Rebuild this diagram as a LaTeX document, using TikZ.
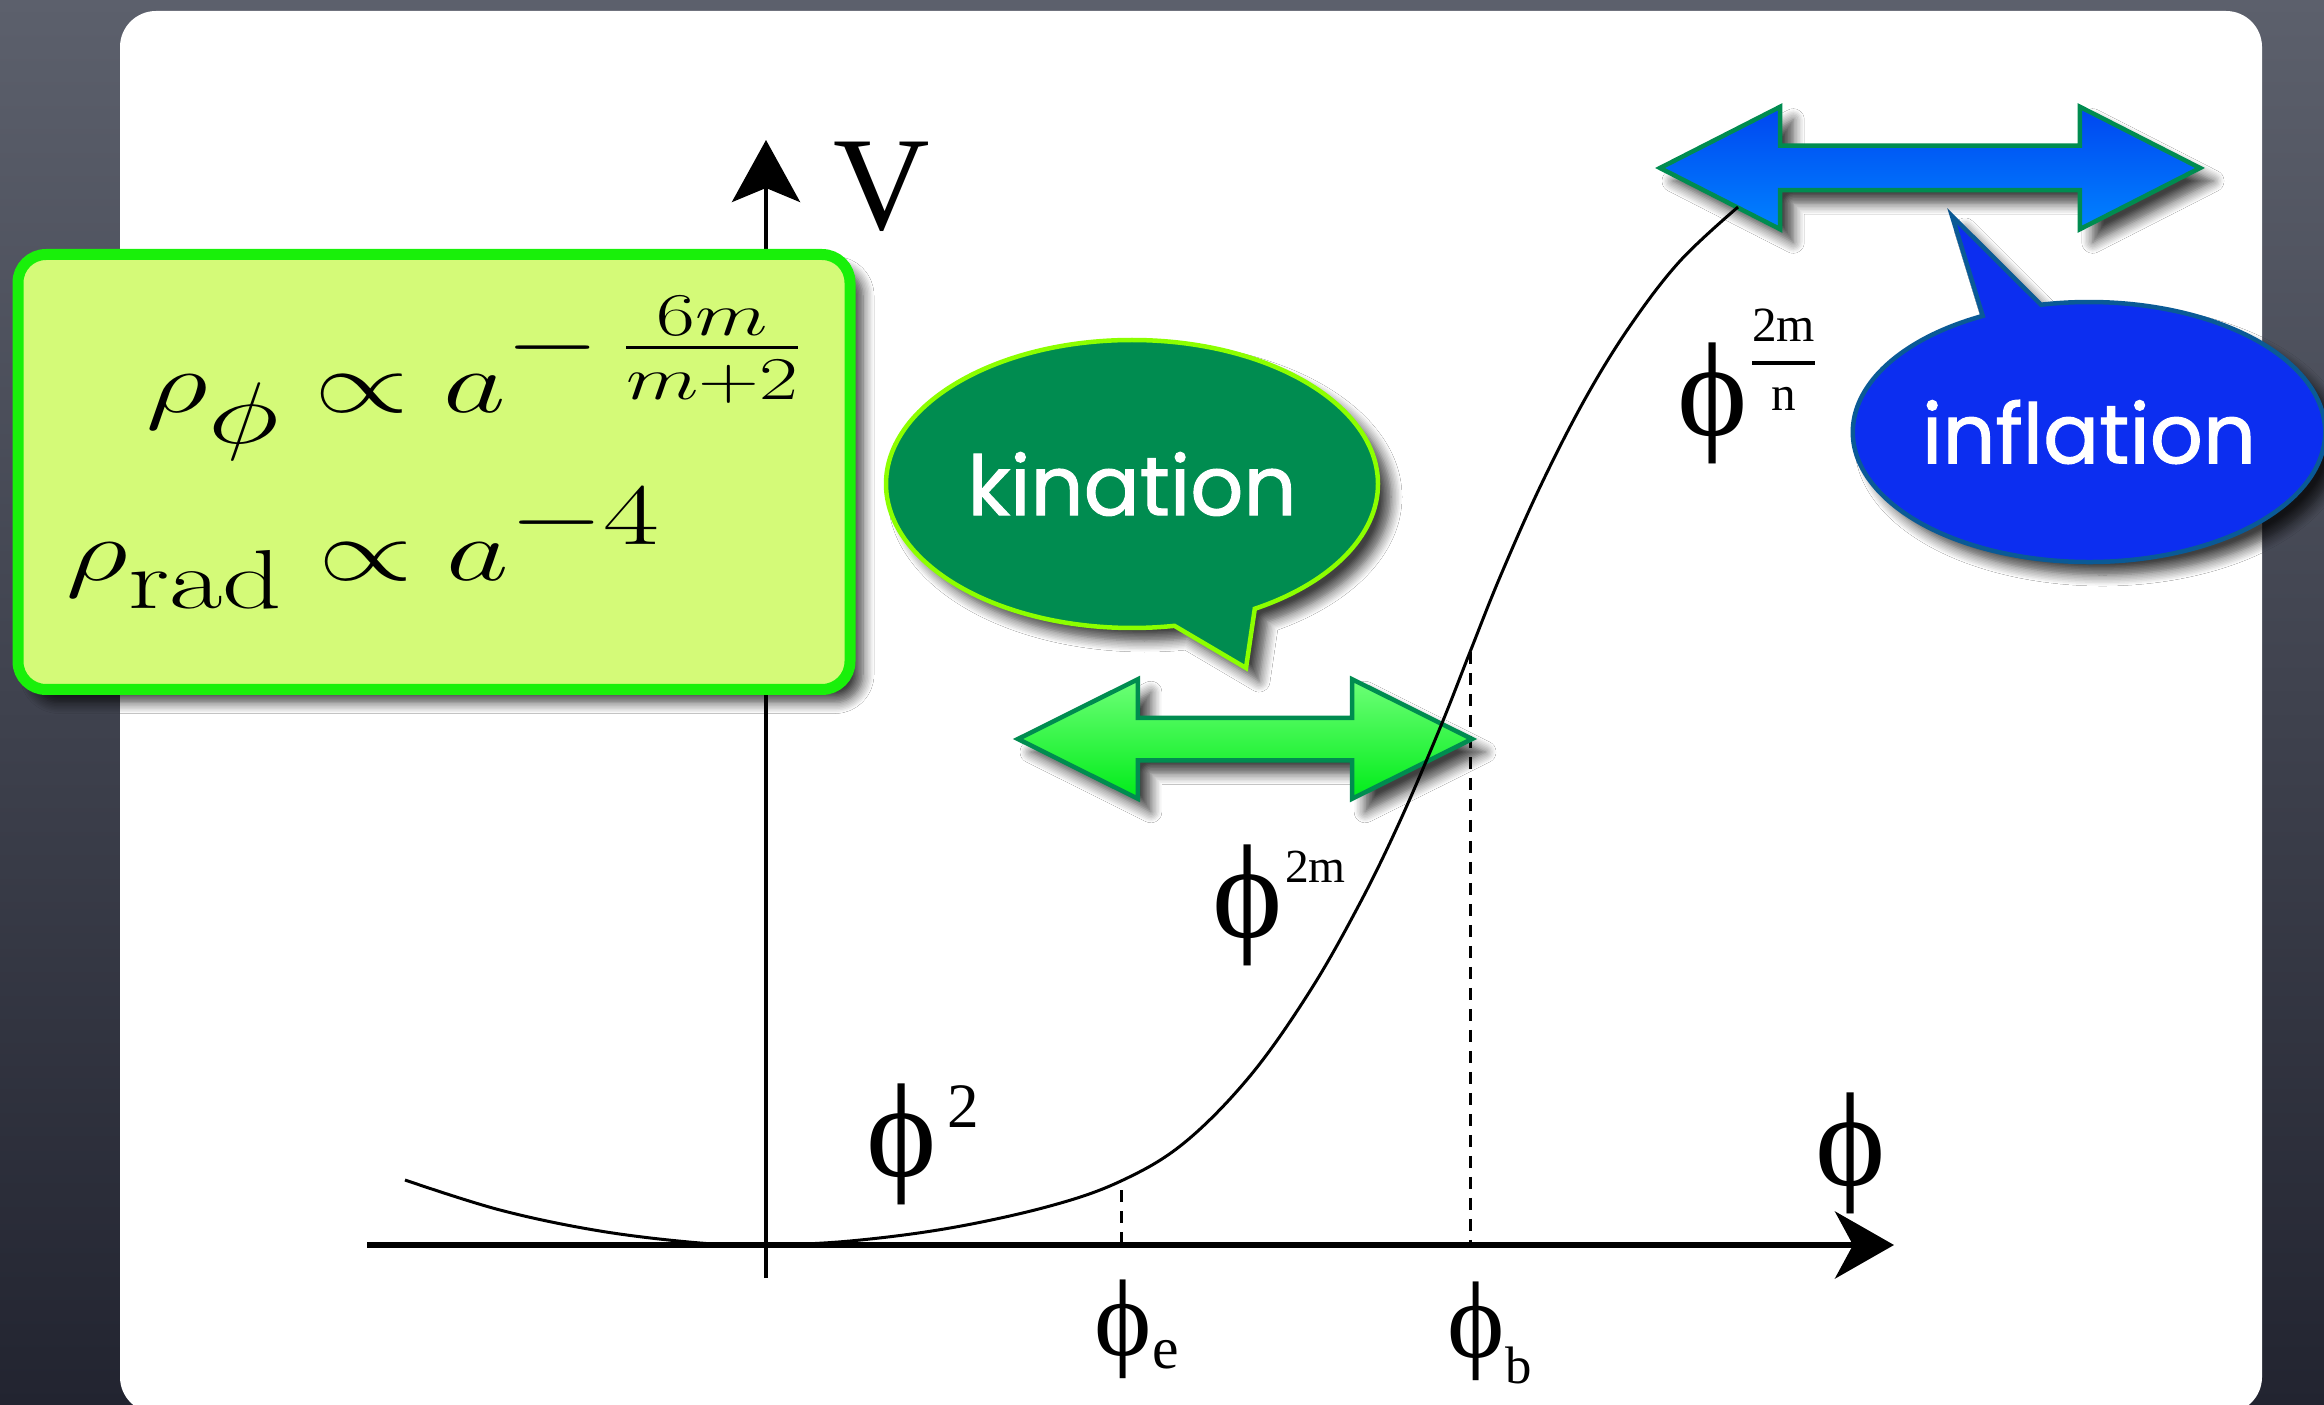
\documentclass[tikz,border=0pt]{standalone}
\usepackage{amsmath}
\usepackage{graphicx}
\usepackage{fontspec}
\usepackage{tikz}
\usetikzlibrary{arrows.meta, shapes.geometric, shapes.callouts, shapes.arrows, shadows, shadows.blur, positioning}
\newfontfamily\labelfont{Liberation Serif}
\newfontfamily\bubblefont{Poppins}[FakeBold=1.2]
\newcommand{\supsize}[1]{\fontsize{#1}{#1}\selectfont}
\definecolor{slatetop}{RGB}{92,96,108}
\definecolor{slatebottom}{RGB}{34,36,48}
\definecolor{limefill}{RGB}{212,250,120}
\definecolor{limeedge}{RGB}{25,240,10}
\definecolor{kingreen}{RGB}{0,140,80}
\definecolor{kinedge}{RGB}{140,255,0}
\definecolor{infblue}{RGB}{12,46,240}
\definecolor{infedge}{RGB}{10,90,150}
\definecolor{arrowedge}{RGB}{0,140,80}

\begin{document}
\begin{tikzpicture}[
    x=0.1mm, y=-0.1mm,
    vaxis/.style={line width=0.45mm, -{Stealth[length=6.2mm, width=6.8mm, inset=1.4mm]}},
    haxis/.style={line width=0.6mm, -{Stealth[length=5.9mm, width=6.7mm, inset=1.8mm]}},
    guide/.style={line width=0.3mm, dash pattern=on 1.2mm off 0.9mm},
    potential/.style={line width=0.3mm},
    lbl/.style={inner sep=0pt, anchor=base west, font=\labelfont\fontsize{38}{40}\selectfont},
    formula/.style={inner sep=0pt, anchor=base west, font=\fontsize{34}{40}\selectfont},
    softshadow/.style={blur shadow={shadow xshift=1.3mm, shadow yshift=-1.3mm, shadow blur radius=1.1mm, shadow blur steps=8, shadow opacity=75}},
    bubble/.style={ellipse callout, inner sep=0pt, line width=0.45mm, text=white, font=\bubblefont\fontsize{23.6}{26}\selectfont, softshadow},
    twoway/.style={double arrow, inner xsep=0pt, draw=arrowedge, line width=0.45mm, softshadow}
]
\useasboundingbox (0,0) rectangle (2324,1405);

% slide background
\fill[top color=slatetop, bottom color=slatebottom] (0,0) rectangle (2324,1405);
\fill[white, rounded corners=3.6mm] (120,11) rectangle (2262,1413);

% axes
\coordinate (origin) at (766,1245);
\coordinate (vtop) at (766,140);
\coordinate (vbot) at (766,1278);
\coordinate (xleft) at (367,1245);
\coordinate (xright) at (1894,1245);
\draw[vaxis] (vbot) -- (vtop);
\draw[haxis] (xleft) -- (xright);

\coordinate (ecurve) at (1121,1190);
\coordinate (eaxis) at (1121,1245);
\coordinate (bcurve) at (1470,652);
\coordinate (baxis) at (1470,1245);
\draw[guide] (ecurve) -- (eaxis);
\draw[guide] (bcurve) -- (baxis);

% scaling laws
\node (rhobox) [rectangle, rounded corners=2.8mm, minimum width=83.2mm, minimum height=43.5mm, fill=limefill, draw=limeedge, line width=1.1mm, softshadow] at (434,472) {};
\node (rhophi) [formula] at (146,413) {\scalebox{1.39}[1]{$\displaystyle \rho_\phi \propto a^{-\,\frac{6m}{m+2}}$}};
\node (rhorad) [formula] at (66,581) {\scalebox{1.39}[1]{$\displaystyle \rho_{\mathrm{rad}} \propto a^{-4}$}};

% regimes
\node (kination) [bubble, fill=kingreen, draw=kinedge, minimum width=49.2mm, minimum height=28.8mm, callout pointer arc=20, callout absolute pointer={(1246,668)}] at (1132,484) {kination};
\node (inflation) [bubble, fill=infblue, draw=infedge, minimum width=46.6mm, minimum height=26mm, callout absolute pointer={(1952,216)}] at (2089,432) {inflation};

\node (kinarrow) [twoway, top color={rgb,255:red,110;green,255;blue,120}, bottom color={rgb,255:red,0;green,236;blue,25}, inner ysep=1.9mm, double arrow head extend=3.85mm, double arrow tip angle=53, minimum height=45.4mm] at (1245,739) {};
\node (infarrow) [twoway, top color={rgb,255:red,0;green,70;blue,240}, bottom color={rgb,255:red,0;green,130;blue,255}, inner ysep=2mm, double arrow head extend=3.9mm, double arrow tip angle=54, minimum height=54mm] at (1930,168) {};

% potential
\draw[potential] plot[smooth, tension=0.6] coordinates {(405,1180) (500,1210) (600,1231) (700,1243) (766,1245) (850,1241) (950,1228) (1050,1206) (1121,1181) (1184,1143) (1250,1076) (1310,991) (1360,903) (1400,821) (1440,728) (1470,652) (1500,577) (1540,487) (1585,399) (1630,326) (1680,261) (1738,207)};

% labels
\node (vlabel) [lbl] at (833,230) {V};
\node (phix) [lbl] at (1815,1185) {ϕ};
\node (phisq) [lbl] at (866,1176) {ϕ\hspace{1mm}\raisebox{4.9mm}{\supsize{18}2}};
\node (phim) [lbl] at (1212,937) {ϕ\hspace{0.2mm}\raisebox{5.5mm}{\supsize{13.5}2m}};
\node (phimn) [lbl] at (1677,436) {ϕ\raisebox{6mm}{\supsize{14}$\genfrac{}{}{1.2pt}{0}{\text{2m}}{\text{n}}$}};
\node (phie) [lbl, font=\labelfont\fontsize{31}{33}\selectfont] at (1094,1355) {ϕ\raisebox{-1.3mm}{\supsize{17}e}};
\node (phib) [lbl, font=\labelfont\fontsize{31}{33}\selectfont] at (1447,1357) {ϕ\raisebox{-2.6mm}{\supsize{15}b}};

\end{tikzpicture}
\end{document}
